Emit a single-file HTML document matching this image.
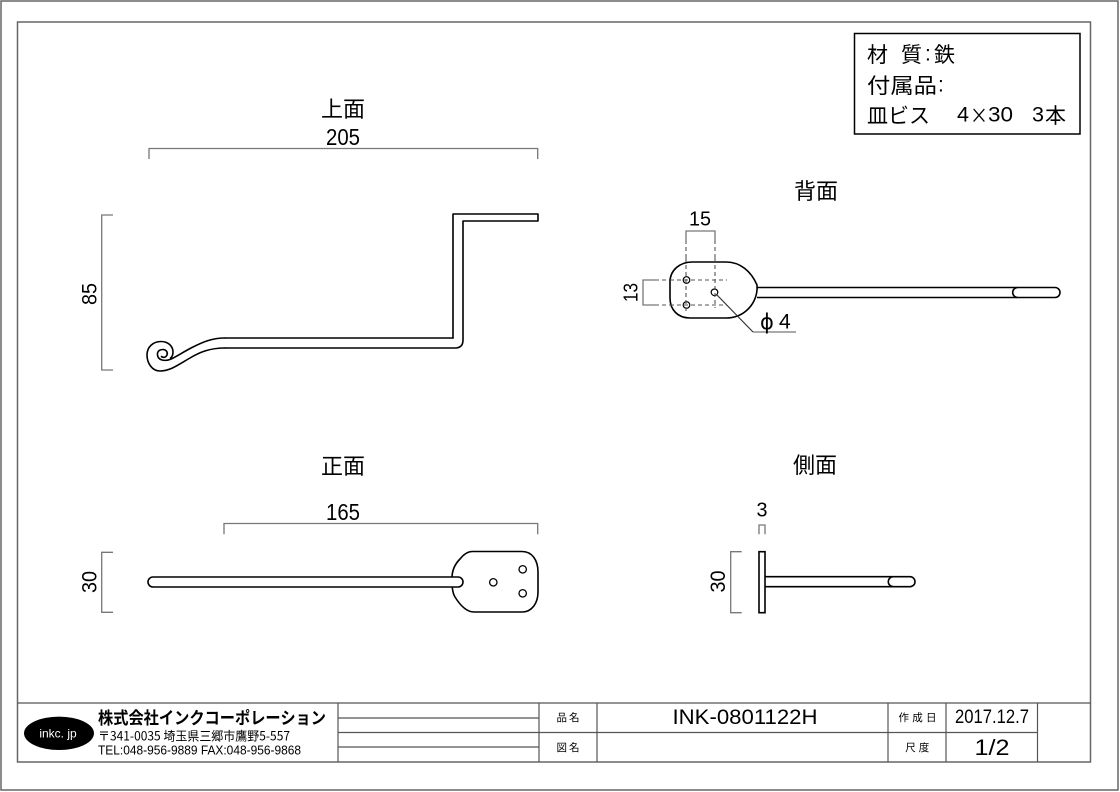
<!DOCTYPE html>
<html><head><meta charset="utf-8"><style>
html,body{margin:0;padding:0;background:#fff;}
svg{display:block;}
text{font-family:"Liberation Sans","Noto Sans CJK JP",sans-serif;fill:#000;}
.j{font-family:"Noto Sans CJK JP","Liberation Sans",sans-serif;}
</style></head><body>
<svg width="1120" height="792" viewBox="0 0 1120 792" xmlns="http://www.w3.org/2000/svg">
<rect x="0" y="0" width="1120" height="792" fill="#fff"/>
<!-- frames -->
<rect x="1" y="1" width="1117" height="789" fill="none" stroke="#666" stroke-width="1.5"/>
<rect x="17.5" y="22" width="1073" height="740" fill="none" stroke="#666" stroke-width="1.5"/>

<!-- material box -->
<rect x="854.5" y="33.5" width="225.5" height="100.5" fill="none" stroke="#000" stroke-width="1.5"/>
<g font-size="21">
<text class="j" x="867" y="54" dominant-baseline="central">材</text>
<text class="j" x="901" y="54" dominant-baseline="central">質</text>
<text x="925" y="54" dominant-baseline="central">:</text>
<text class="j" x="934" y="54" dominant-baseline="central">鉄</text>
<text class="j" x="867" y="85" dominant-baseline="central" textLength="70" lengthAdjust="spacingAndGlyphs">付属品</text>
<text x="938" y="85" dominant-baseline="central">:</text>
<text class="j" x="867" y="115" dominant-baseline="central" textLength="63" lengthAdjust="spacingAndGlyphs">皿ビス</text>
<text x="957" y="115" dominant-baseline="central" textLength="12" lengthAdjust="spacingAndGlyphs">4</text>
<text class="j" x="970" y="115" dominant-baseline="central" textLength="18" lengthAdjust="spacingAndGlyphs">×</text>
<text x="988" y="115" dominant-baseline="central" textLength="25" lengthAdjust="spacingAndGlyphs">30</text>
<text x="1032" y="115" dominant-baseline="central" textLength="12" lengthAdjust="spacingAndGlyphs">3</text>
<text class="j" x="1045" y="115" dominant-baseline="central">本</text>
</g>

<!-- view titles -->
<g font-size="22" text-anchor="middle">
<text class="j" x="343" y="108" dominant-baseline="central">上面</text>
<text class="j" x="816" y="190" dominant-baseline="central">背面</text>
<text class="j" x="343" y="465" dominant-baseline="central">正面</text>
<text class="j" x="815" y="464" dominant-baseline="central">側面</text>
</g>

<!-- dimension lines -->
<g fill="none" stroke="#777" stroke-width="1.3">
<path d="M149 159 L149 148.5 L537.7 148.5 L537.7 159"/>
<path d="M113 215 L101.7 215 L101.7 370 L113 370"/>
<path d="M224 534.3 L224 523.5 L537.7 523.5 L537.7 534.3"/>
<path d="M113 552.3 L101.7 552.3 L101.7 612.3 L113 612.3"/>
<path d="M741.7 551.7 L730.7 551.7 L730.7 612.7 L741.7 612.7"/>
<path d="M759 534.3 L759 525 L765 525 L765 534.3"/>
<path d="M686 240 L686 231 L715 231 L715 240"/>
<path d="M655 280 L643 280 L643 305 L655 305"/>
<path d="M753 332 L796 332"/>
</g>
<g fill="none" stroke="#555" stroke-width="1.1" stroke-dasharray="4 3">
<path d="M686 240 L686 312"/>
<path d="M715 240 L715 308"/>
<path d="M655 280 L727 280"/>
<path d="M655 305 L727 305"/>
</g>

<!-- dimension texts -->
<g font-size="23" text-anchor="middle">
<text x="343" y="137" dominant-baseline="central" textLength="34" lengthAdjust="spacingAndGlyphs">205</text>
<text x="343" y="512" dominant-baseline="central" textLength="34" lengthAdjust="spacingAndGlyphs">165</text>
<text x="700" y="219.5" font-size="20" dominant-baseline="central" textLength="22" lengthAdjust="spacingAndGlyphs">15</text>
<text x="762" y="510.5" font-size="20" dominant-baseline="central" textLength="11" lengthAdjust="spacingAndGlyphs">3</text>
<text transform="translate(90,294) rotate(-90)" font-size="21" dominant-baseline="central" textLength="22" lengthAdjust="spacingAndGlyphs">85</text>
<text transform="translate(90,582) rotate(-90)" font-size="21" dominant-baseline="central" textLength="22" lengthAdjust="spacingAndGlyphs">30</text>
<text transform="translate(718.3,581.5) rotate(-90)" font-size="21" dominant-baseline="central" textLength="22" lengthAdjust="spacingAndGlyphs">30</text>
<text transform="translate(631.7,292.5) rotate(-90)" font-size="20" dominant-baseline="central" textLength="19" lengthAdjust="spacingAndGlyphs">13</text>
</g>
<text x="760" y="322" font-size="21" dominant-baseline="central" style="font-family:'DejaVu Sans','Liberation Sans',sans-serif">ϕ</text>
<text x="779" y="322" font-size="21" dominant-baseline="central">4</text>

<!-- TOP VIEW (上面) -->
<g fill="none" stroke="#000" stroke-width="1.6" stroke-linejoin="round" stroke-linecap="round">
<path d="M453 338 L453 214 L538 214 L538 221 L463 221 L463 340 Q463 348 455 348 L225 348"/>
<path d="M453 338 L225 338"/>
<path d="M225 348 C210 348 200 352 190 358 C178 365 170 371 160 371 C152 371 147 363 147 355 C147 347 153 341.5 161 341.5 C168 341.5 173 346 173 352 C173 355 172 357 170.5 358"/>
<path d="M225 338 C212 338 203 342 193 347 C183 352 176 357 170 359.5 C164 361.5 158 360 157.5 355 C157 351 160 349.5 163 349.5 C166 349.5 168 352 167 355 C166 357.5 163 358 161.5 356.5"/>
</g>

<!-- BACK VIEW (背面) -->
<g fill="none" stroke="#000" stroke-width="1.6">
<path d="M692 262 L726 262 C740 262 751 271 757 285 C758 297 752 306 746 311 C740 316 734 318 726 318 L690 318 C678 318 670 310 670 298 L670 282 C670 270 680 262 692 262 Z" fill="#fff"/>
<path d="M757 287.5 L1055 287.5 A5 5 0 0 1 1055 297.5 L757 297.5"/>
<path d="M1017.7 287.5 A5 5 0 0 0 1017.7 297.5"/>
<circle cx="686.5" cy="280" r="3.3" stroke-width="1.2"/>
<circle cx="686.5" cy="305" r="3.3" stroke-width="1.2"/>
<circle cx="714.5" cy="292.3" r="3.3" stroke-width="1.2"/>
</g>
<g fill="none" stroke="#555" stroke-width="1.1" stroke-dasharray="4 3">
<path d="M686 258 L686 312"/>
<path d="M715 258 L715 308"/>
<path d="M670 280 L727 280"/>
<path d="M670 305 L727 305"/>
</g>
<path d="M717 295 L753 332" stroke="#333" stroke-width="1.2" fill="none"/>

<!-- FRONT VIEW (正面) -->
<g stroke="#000" stroke-width="1.6">
<path d="M472 551.5 L522 551.5 C532 551.5 538 560 538 572 L538 592 C538 603 532 612 522 612 L474 612 C466 612 460 605 455 597 C452 592 452 585 452 578 C452 570 455 564 460 559 C464 554 468 551.5 472 551.5 Z" fill="#fff"/>
<path d="M153 577 L458 577 A5 5 0 0 1 458 587 L153 587 A5 5 0 0 1 153 577 Z" fill="#fff"/>
<circle cx="493.3" cy="582.3" r="3.7" fill="#fff" stroke-width="1.3"/>
<circle cx="522.7" cy="569.3" r="3.7" fill="#fff" stroke-width="1.3"/>
<circle cx="522.7" cy="593.3" r="3.7" fill="#fff" stroke-width="1.3"/>
</g>

<!-- SIDE VIEW (側面) -->
<g fill="none" stroke="#000" stroke-width="1.6">
<rect x="759" y="551.7" width="6" height="61"/>
<path d="M765 576.7 L910 576.7 A5 5 0 0 1 910 586.7 L765 586.7"/>
<path d="M893.3 576.7 A5 5 0 0 0 893.3 586.7"/>
</g>

<!-- TITLE BLOCK -->
<g fill="none" stroke="#555" stroke-width="1.2">
<path d="M17.5 703 L1090.5 703"/>
<path d="M338 732.5 L1037.5 732.5"/>
<path d="M338 718 L539 718"/>
<path d="M338 747 L539 747"/>
<path d="M338 703 L338 762"/>
<path d="M539 703 L539 762"/>
<path d="M597 703 L597 762"/>
<path d="M888 703 L888 762"/>
<path d="M946 703 L946 762"/>
<path d="M1037.5 703 L1037.5 762"/>
</g>
<ellipse cx="59" cy="733.3" rx="35" ry="16.7" fill="#000"/>
<text x="58" y="733.5" font-size="12" text-anchor="middle" dominant-baseline="central" style="fill:#fff">inkc. jp</text>
<text class="j" x="98" y="716.5" font-size="17" font-weight="bold" dominant-baseline="central" textLength="228" lengthAdjust="spacingAndGlyphs">株式会社インクコーポレーション</text>
<text class="j" x="98" y="735" font-size="12.5" dominant-baseline="central" textLength="192" lengthAdjust="spacingAndGlyphs">〒341-0035 埼玉県三郷市鷹野5-557</text>
<text x="98" y="750" font-size="13" dominant-baseline="central" textLength="203" lengthAdjust="spacingAndGlyphs">TEL:048-956-9889  FAX:048-956-9868</text>

<g text-anchor="middle">
<text class="j" x="568" y="717.5" font-size="10.5" dominant-baseline="central" textLength="23" lengthAdjust="spacing">品 名</text>
<text class="j" x="568" y="747.5" font-size="10.5" dominant-baseline="central" textLength="23" lengthAdjust="spacing">図 名</text>
<text x="745" y="717.5" font-size="21" dominant-baseline="central" textLength="145" lengthAdjust="spacingAndGlyphs">INK-0801122H</text>
<text class="j" x="917.5" y="717.5" font-size="10.5" dominant-baseline="central" textLength="38" lengthAdjust="spacing">作成日</text>
<text class="j" x="917.3" y="747.5" font-size="10.5" dominant-baseline="central" textLength="24" lengthAdjust="spacing">尺度</text>
<text x="992" y="717.5" font-size="19" dominant-baseline="central" textLength="74" lengthAdjust="spacingAndGlyphs">2017.12.7</text>
<text x="992" y="747.5" font-size="22" dominant-baseline="central" textLength="35" lengthAdjust="spacingAndGlyphs">1/2</text>
</g>
</svg>
</body></html>
